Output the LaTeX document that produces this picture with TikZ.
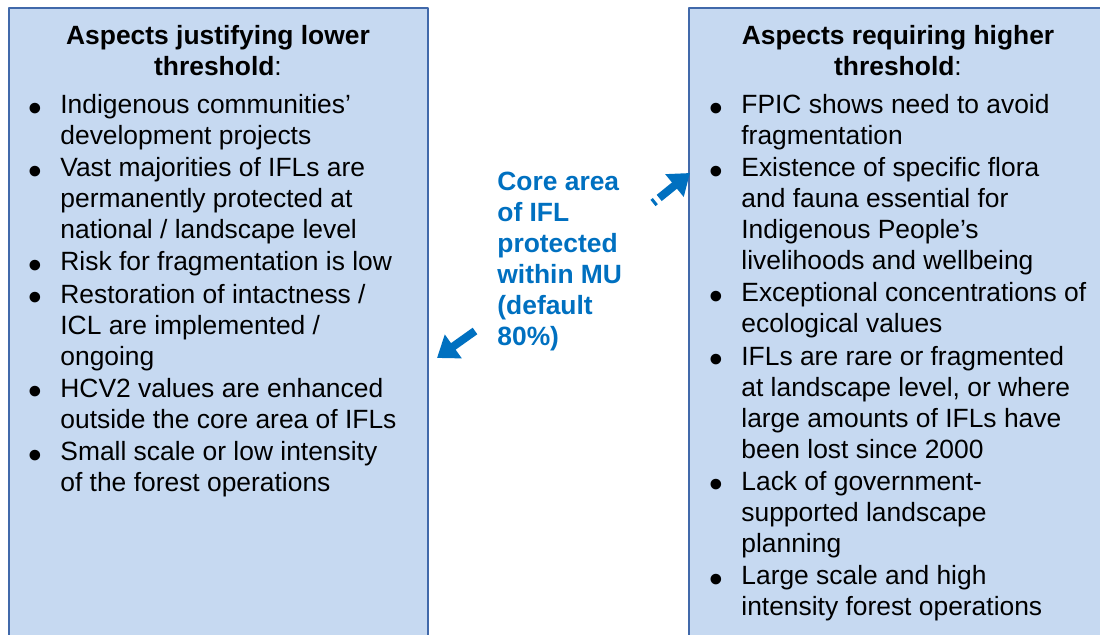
\documentclass[tikz,border=0pt]{standalone}
\usepackage{fontspec}
\setmainfont{Liberation Sans}
\usetikzlibrary{arrows.meta, positioning}
\definecolor{panelfill}{HTML}{C6D9F1}
\definecolor{paneldraw}{HTML}{4169AA}
\definecolor{coreblue}{HTML}{0070C0}
\newcommand{\itm}{\llap{\smash{\raisebox{-3.8pt}{\fontsize{19.5}{0}\selectfont\textbullet}}\hspace{9pt}}}

\begin{document}
\begin{tikzpicture}[x=0.5pt, y=-0.5pt, line join=round,
    panel/.style={fill=panelfill, draw=paneldraw, line width=1pt},
    txt/.style={inner sep=0pt, align=left, anchor=north west,
      font=\fontsize{13.2}{15.5}\selectfont},
    head/.style={inner sep=0pt, align=center, anchor=north,
      font=\fontsize{13.2}{15.5}\selectfont},
    fat/.style={draw=coreblue, line width=4pt,
      -{Triangle[length=10pt, width=14pt]}}]
      \useasboundingbox (0,0) rectangle (1100,635);
      \clip (0,0) rectangle (1100,635);
      % the two panels run off the bottom edge
      \draw[panel] (9,8) rectangle (428,660);
      \draw[panel] (689,8) rectangle (1110,660);
      % left panel
      \node[head] (lowhead) at (218,25) {\textbf{Aspects justifying lower}\\\textbf{threshold}:};
      \node[txt] (lowlist) at (60,94) {%
        \itm Indigenous communities'\\ development projects\\[0.6pt]
        \itm Vast majorities of IFLs are\\ permanently protected at\\ national / landscape level\\[0.6pt]
        \itm Risk for fragmentation is low\\[0.6pt]
        \itm Restoration of intactness /\\ ICL are implemented /\\ ongoing\\[0.6pt]
        \itm HCV2 values are enhanced\\ outside the core area of IFLs\\[0.6pt]
        \itm Small scale or low intensity\\ of the forest operations};
      % right panel
      \node[head] (highhead) at (898,25) {\textbf{Aspects requiring higher}\\\textbf{threshold}:};
      \node[txt] (highlist) at (741,94) {%
        \itm FPIC shows need to avoid\\ fragmentation\\[0.6pt]
        \itm Existence of specific flora\\ and fauna essential for\\ Indigenous People's\\ livelihoods and wellbeing\\[0.6pt]
        \itm Exceptional concentrations of\\ ecological values\\[0.6pt]
        \itm IFLs are rare or fragmented\\ at landscape level, or where\\ large amounts of IFLs have\\ been lost since 2000\\[0.6pt]
        \itm Lack of government-\\ supported landscape\\ planning\\[0.6pt]
        \itm Large scale and high\\ intensity forest operations};
      % core area in the middle
      \node[txt, text=coreblue, font=\bfseries\fontsize{13.2}{15.5}\selectfont] (core) at (497,172)
        {Core area\\of IFL\\protected\\within MU\\(default\\80\%)};
      \coordinate (lowtail) at (475,331);
      \coordinate (lowtip) at (437,358);
      \coordinate (hightail) at (653,203);
      \coordinate (hightip) at (690,173);
      \draw[fat] (lowtail) -- (lowtip);
      \draw[fat, dash pattern=on 1.5pt off 2.5pt on 40pt] (hightail) -- (hightip);
    \end{tikzpicture}
\end{document}
